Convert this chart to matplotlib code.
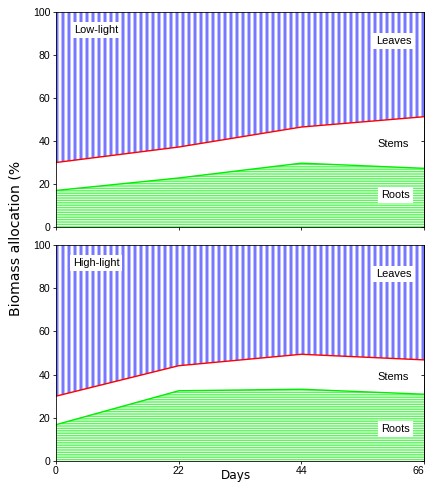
import matplotlib
matplotlib.use('Agg')
import matplotlib.pyplot as plt

plt.rcParams['font.family'] = ['Liberation Sans', 'DejaVu Sans']

# Data
days = [0, 22, 44, 66]
low_roots = [17, 22.8, 29.7, 27.3]
low_roots_stems = [30, 37.2, 46.5, 51.3]
high_roots = [16.8, 32.5, 33.2, 30.9]
high_roots_stems = [30, 44.1, 49.4, 46.8]
panel_titles = ['Low-light', 'High-light']
yticks = [0, 20, 40, 60, 80, 100]
xticks = [0, 22, 44, 66]

fig = plt.figure(figsize=(428 / 72, 483 / 72), dpi=72)
ax1 = fig.add_axes([0.1308, 0.530, 0.860, 0.4451])
ax2 = fig.add_axes([0.1308, 0.0456, 0.860, 0.4472])


def draw_panel(ax, roots, roots_stems, title, show_xlabels):
    with plt.rc_context({'hatch.linewidth': 3.0}):
        ax.fill_between(days, roots_stems, 100, facecolor='white',
                        edgecolor='#7878ff', hatch='||', linewidth=0)
    with plt.rc_context({'hatch.linewidth': 1.4}):
        ax.fill_between(days, 0, roots, facecolor='white',
                        edgecolor='#5cf55c', hatch='-----', linewidth=0)
    ax.plot(days, roots_stems, color='red', lw=1.4)
    ax.plot(days, roots, color='#00ee00', lw=1.4)
    ax.set_xlim(0, 66)
    ax.set_ylim(0, 100)
    ax.set_yticks(yticks)
    ax.set_xticks(xticks)
    ax.tick_params(axis='both', labelsize=10.5, length=3, pad=2.5, direction='out')
    sec = ax.secondary_yaxis('right')
    sec.set_yticks(yticks)
    sec.tick_params(direction='in', length=3, labelright=False)
    if not show_xlabels:
        ax.set_xticklabels([])
    else:
        # keep the last label inside the figure edge
        ax.get_xticklabels()[-1].set_horizontalalignment('right')
    box = dict(facecolor='white', edgecolor='none', pad=3)
    ax.text(7.2, 91.5, title, fontsize=11, ha='center', va='center', bbox=box)
    ax.text(60.5, 86.5, 'Leaves', fontsize=11, ha='center', va='center', bbox=box)
    ax.text(60.5, 38.7, 'Stems', fontsize=11, ha='center', va='center')
    ax.text(60.9, 15, 'Roots', fontsize=11, ha='center', va='center', bbox=box)


draw_panel(ax1, low_roots, low_roots_stems, panel_titles[0], False)
draw_panel(ax2, high_roots, high_roots_stems, panel_titles[1], True)

fig.text(0.037, 0.507, 'Biomass allocation (%', rotation=90, fontsize=14,
         family='DejaVu Sans', ha='center', va='center')
fig.text(0.551, 0.003, 'Days', fontsize=12, family='DejaVu Sans',
         ha='center', va='bottom')

fig.savefig('out.png', dpi=72)
